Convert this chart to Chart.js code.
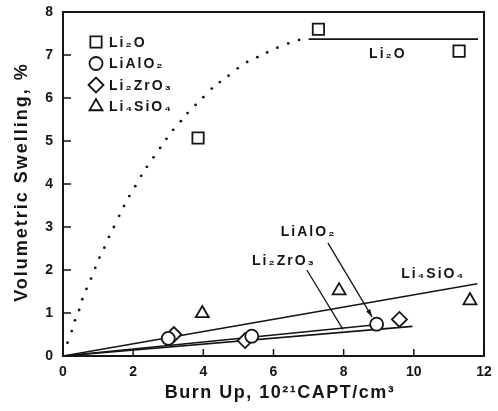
<!DOCTYPE html>
<html>
<head>
<meta charset="utf-8">
<script src="https://cdn.jsdelivr.net/npm/chart.js@4/dist/chart.umd.min.js"></script>
<style>
  html, body { margin: 0; padding: 0; background: #fff; }
  #wrap { width: 498px; height: 411px; }
</style>
</head>
<body>
<div id="wrap"><canvas id="swellChart"></canvas></div>
<script>
// measured points
const li2oX = [3.85, 7.28, 11.29];
const li2oY = [5.07, 7.6, 7.09];
const lialo2X = [3.0, 5.38, 8.94];
const lialo2Y = [0.41, 0.46, 0.74];
const li2zro3X = [3.16, 5.19, 9.59];
const li2zro3Y = [0.5, 0.36, 0.85];
const li4sio4X = [3.97, 7.87, 11.6];
const li4sio4Y = [0.99, 1.52, 1.29];

// dotted Li2O trend (dots)
const dotX = [0.13, 0.25, 0.34, 0.46, 0.55, 0.67, 0.8, 0.92, 1.04, 1.18, 1.31, 1.45, 1.6, 1.74, 1.89, 2.06,
  2.23, 2.39, 2.58, 2.77, 2.95, 3.14, 3.36, 3.55, 3.78, 4.0, 4.24, 4.47, 4.72, 4.98, 5.25, 5.54, 5.82, 6.11, 6.42, 6.73];
const dotY = [0.31, 0.58, 0.83, 1.07, 1.32, 1.56, 1.8, 2.05, 2.29, 2.52, 2.77, 3.0, 3.26, 3.49, 3.72, 3.95,
  4.19, 4.4, 4.62, 4.84, 5.05, 5.26, 5.46, 5.65, 5.84, 6.02, 6.22, 6.37, 6.52, 6.69, 6.84, 6.95, 7.06, 7.17, 7.27, 7.35];

// fitted lines (start / end)
const li2oFitX = [7.0, 11.83];
const li2oFitY = [7.37, 7.37];
const li4sio4FitX = [0, 11.81];
const li4sio4FitY = [0, 1.68];
const lialo2FitX = [0, 8.85];
const lialo2FitY = [0, 0.72];
const li2zro3FitX = [0, 9.96];
const li2zro3FitY = [0, 0.69];

// labels and leaders
const seriesNames = ['Li₂O', 'LiAlO₂', 'Li₂ZrO₃', 'Li₄SiO₄'];
const noteText = ['Li₂O', 'LiAlO₂', 'Li₂ZrO₃', 'Li₄SiO₄'];
const noteX = [9.26, 7.0, 6.3, 10.55];
const noteY = [7.02, 2.88, 2.2, 1.9];
const leaderFromX = [7.55, 6.95];
const leaderFromY = [2.63, 2.0];
const leaderToX = [8.81, 7.98];
const leaderToY = [0.91, 0.62];
const leaderHead = [true, false];

const xTicks = [0, 2, 4, 6, 8, 10, 12];
const yTicks = [0, 1, 2, 3, 4, 5, 6, 7, 8];

const ink = '#151515';
const pts = (xs, ys) => xs.map((v, i) => ({ x: v, y: ys[i] }));

function markerSet(label, xs, ys, style, r) {
  return {
    label: label,
    data: pts(xs, ys),
    pointStyle: style,
    pointRadius: r,
    pointHoverRadius: r,
    pointBorderWidth: 1.8,
    pointBorderColor: ink,
    pointBackgroundColor: '#fff',
    showLine: false,
    order: 1
  };
}

function fitSet(xs, ys) {
  return {
    data: pts(xs, ys),
    showLine: true,
    borderColor: ink,
    borderWidth: 1.6,
    pointRadius: 0,
    order: 3
  };
}

const markers = [
  markerSet(seriesNames[0], li2oX, li2oY, 'rect', 8),
  markerSet(seriesNames[1], lialo2X, lialo2Y, 'circle', 6.5),
  markerSet(seriesNames[2], li2zro3X, li2zro3Y, 'rectRot', 7.5),
  markerSet(seriesNames[3], li4sio4X, li4sio4Y, 'triangle', 7.5)
];

const extras = {
  id: 'extras',
  afterDatasetsDraw(chart) {
    const { ctx, chartArea: a, scales: { x, y } } = chart;
    ctx.save();

    // frame and inward ticks
    ctx.strokeStyle = ink;
    ctx.lineWidth = 2;
    ctx.strokeRect(a.left, a.top, a.right - a.left, a.bottom - a.top);
    ctx.lineWidth = 1.5;
    ctx.beginPath();
    x.ticks.forEach(t => {
      const px = x.getPixelForValue(t.value);
      ctx.moveTo(px, a.bottom);
      ctx.lineTo(px, a.bottom - 7);
    });
    y.ticks.forEach(t => {
      const py = y.getPixelForValue(t.value);
      ctx.moveTo(a.left, py);
      ctx.lineTo(a.left + 8, py);
    });
    ctx.stroke();

    // leaders
    ctx.lineWidth = 1.3;
    leaderFromX.forEach((fx, i) => {
      const x0 = x.getPixelForValue(fx), y0 = y.getPixelForValue(leaderFromY[i]);
      const x1 = x.getPixelForValue(leaderToX[i]), y1 = y.getPixelForValue(leaderToY[i]);
      ctx.beginPath();
      ctx.moveTo(x0, y0);
      ctx.lineTo(x1, y1);
      ctx.stroke();
      if (leaderHead[i]) {
        const ang = Math.atan2(y1 - y0, x1 - x0);
        ctx.beginPath();
        ctx.moveTo(x1, y1);
        ctx.lineTo(x1 - 8 * Math.cos(ang - 0.3), y1 - 8 * Math.sin(ang - 0.3));
        ctx.lineTo(x1 - 8 * Math.cos(ang + 0.3), y1 - 8 * Math.sin(ang + 0.3));
        ctx.closePath();
        ctx.fillStyle = ink;
        ctx.fill();
      }
    });

    // text labels
    ctx.fillStyle = ink;
    ctx.font = 'bold 14px "Liberation Sans", Arial, sans-serif';
    ctx.letterSpacing = '2px';
    ctx.textAlign = 'center';
    ctx.textBaseline = 'middle';
    noteText.forEach((t, i) => {
      ctx.fillText(t, x.getPixelForValue(noteX[i]), y.getPixelForValue(noteY[i]));
    });

    // legend
    ctx.textAlign = 'left';
    markers.forEach((ds, i) => {
      const ly = a.top + 30 + i * 21.5;
      const lx = a.left + 33;
      ctx.lineWidth = 1.8;
      ctx.strokeStyle = ink;
      ctx.fillStyle = '#fff';
      Chart.helpers.drawPoint(ctx, { pointStyle: ds.pointStyle, radius: ds.pointRadius, rotation: 0, borderWidth: 1.8 }, lx, ly);
      ctx.fillStyle = ink;
      ctx.fillText(ds.label, lx + 13, ly + 1);
    });

    // axis titles
    ctx.font = 'bold 18px "Liberation Sans", Arial, sans-serif';
    ctx.letterSpacing = '1.5px';
    ctx.textAlign = 'center';
    ctx.fillText('Burn Up, 10²¹CAPT/cm³', 280, 393);
    ctx.translate(22, 182);
    ctx.rotate(-Math.PI / 2);
    ctx.letterSpacing = '2px';
    ctx.fillText('Volumetric Swelling, %', 0, 0);
    ctx.restore();
  }
};

new Chart(document.getElementById('swellChart'), {
  type: 'scatter',
  data: {
    datasets: [
      ...markers,
      {
        data: pts(dotX, dotY),
        pointStyle: 'circle',
        pointRadius: 1.4,
        pointBorderWidth: 0,
        pointBackgroundColor: ink,
        showLine: false,
        order: 2
      },
      fitSet(li2oFitX, li2oFitY),
      fitSet(li4sio4FitX, li4sio4FitY),
      fitSet(lialo2FitX, lialo2FitY),
      fitSet(li2zro3FitX, li2zro3FitY)
    ]
  },
  options: {
    responsive: true,
    maintainAspectRatio: false,
    animation: false,
    events: [],
    layout: { padding: { top: 12, right: 14, left: 0, bottom: 0 } },
    plugins: {
      legend: { display: false },
      tooltip: { enabled: false }
    },
    scales: {
      x: {
        type: 'linear',
        min: 0,
        max: 12,
        afterBuildTicks: s => { s.ticks = xTicks.map(v => ({ value: v })); },
        afterFit: s => { s.height = 55; s.paddingLeft = 0; s.paddingRight = 0; },
        grid: { display: false, drawTicks: false },
        border: { display: false },
        ticks: {
          padding: 8,
          color: ink,
          font: { family: "'Liberation Sans', Arial, sans-serif", size: 14, weight: 'bold' }
        }
      },
      y: {
        type: 'linear',
        min: 0,
        max: 8,
        afterBuildTicks: s => { s.ticks = yTicks.map(v => ({ value: v })); },
        afterFit: s => { s.width = 63; s.paddingTop = 0; s.paddingBottom = 0; },
        grid: { display: false, drawTicks: false },
        border: { display: false },
        ticks: {
          padding: 10,
          color: ink,
          font: { family: "'Liberation Sans', Arial, sans-serif", size: 14, weight: 'bold' }
        }
      }
    }
  },
  plugins: [extras]
});
</script>
</body>
</html>
